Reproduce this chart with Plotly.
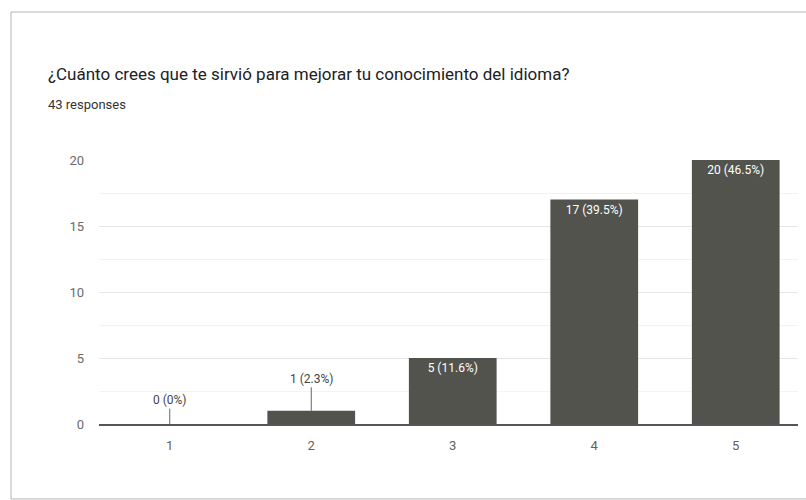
import plotly.graph_objects as go

# Survey results: rating scale 1-5 and number of answers for each
categories = ["1", "2", "3", "4", "5"]
counts = [0, 1, 5, 17, 20]
total_responses = 43
percent_labels = ["0%", "2.3%", "11.6%", "39.5%", "46.5%"]

title_text = "¿Cuánto crees que te sirvió para mejorar tu conocimiento del idioma?"
subtitle_text = f"{total_responses} responses"

bar_color = "#53534e"
font_family = "Roboto, Arial, sans-serif"

labels = [f"{c} ({p})" for c, p in zip(counts, percent_labels)]
inside_text = [lab if c >= 5 else "" for lab, c in zip(labels, counts)]

fig = go.Figure()
fig.add_trace(go.Bar(
    x=categories,
    y=counts,
    marker=dict(color=bar_color, line=dict(width=0)),
    text=inside_text,
    textposition="inside",
    insidetextanchor="end",
    textangle=0,
    textfont=dict(color="white", size=12, family=font_family),
    cliponaxis=False,
    hoverinfo="skip",
))

# small bars get their label above, joined by a short leader line
for i, (c, lab) in enumerate(zip(counts, labels)):
    if c < 5:
        fig.add_annotation(
            x=i, y=c, xref="x", yref="y", text=lab,
            showarrow=True, arrowhead=0, arrowwidth=1, arrowcolor="#666666",
            ax=0, ay=-24 if c == 0 else -32,
            font=dict(color="#444444", size=12, family=font_family),
        )

# card outline
fig.add_shape(type="rect", xref="paper", yref="paper",
              x0=-0.1259, x1=1.2, y0=-0.284, y1=1.5606,
              line=dict(color="#b5b5b5", width=1), layer="below")

fig.add_annotation(xref="paper", yref="paper", x=-0.0764, y=1.3258,
                   xanchor="left", yanchor="middle", showarrow=False,
                   text=title_text,
                   font=dict(size=17, color="#202124", family=font_family))
fig.add_annotation(xref="paper", yref="paper", x=-0.0764, y=1.2121,
                   xanchor="left", yanchor="middle", showarrow=False,
                   text=subtitle_text,
                   font=dict(size=13, color="#333333", family=font_family))

fig.update_layout(
    width=806, height=500,
    margin=dict(l=99, r=8, t=160, b=76),
    paper_bgcolor="white", plot_bgcolor="white",
    bargap=0.38,
    showlegend=False,
    font=dict(family=font_family, color="#555555"),
    xaxis=dict(
        type="category",
        showgrid=False,
        showline=True, linecolor="#555555", linewidth=2,
        ticks="", tickfont=dict(size=13, color="#5f5f5f"),
        ticklabelstandoff=8,
        range=[-0.5, 4.44],
        fixedrange=True,
    ),
    yaxis=dict(
        range=[0, 20],
        tickvals=[0, 5, 10, 15, 20],
        showgrid=True, gridcolor="#e6e6e6", gridwidth=1,
        minor=dict(dtick=2.5, showgrid=True, gridcolor="#f3f3f3"),
        zeroline=False,
        ticks="", tickfont=dict(size=13, color="#6a6a6a"),
        ticklabelstandoff=14,
        fixedrange=True,
    ),
)

fig.write_html("out.html")
